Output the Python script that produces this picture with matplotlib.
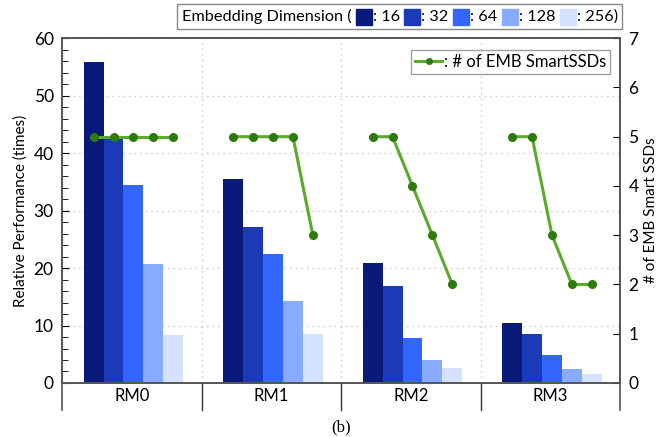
import numpy as np
import matplotlib
matplotlib.use("Agg")
import matplotlib.pyplot as plt
from matplotlib.patches import Rectangle
from matplotlib.lines import Line2D
from matplotlib.ticker import MultipleLocator
from matplotlib.offsetbox import AnchoredOffsetbox, HPacker, TextArea, DrawingArea

plt.rcParams['font.family'] = ['Lato', 'DejaVu Sans']

models = ["RM0", "RM1", "RM2", "RM3"]
dims = ["16", "32", "64", "128", "256"]
dim_colors = ["#0a1a7a", "#1a3ab8", "#3366ff", "#88aaff", "#d4e2ff"]

# relative performance, one list per embedding dimension (RM0..RM3)
perf_16 = [55.8, 35.5, 20.9, 10.5]
perf_32 = [43.0, 27.1, 16.9, 8.6]
perf_64 = [34.4, 22.4, 7.9, 4.9]
perf_128 = [20.7, 14.3, 4.0, 2.4]
perf_256 = [8.3, 8.5, 2.6, 1.5]
perf = [perf_16, perf_32, perf_64, perf_128, perf_256]

# number of EMB SmartSSDs per model, one value per dimension
ssd_rm0 = [5, 5, 5, 5, 5]
ssd_rm1 = [5, 5, 5, 5, 3]
ssd_rm2 = [5, 5, 4, 3, 2]
ssd_rm3 = [5, 5, 3, 2, 2]
ssds = [ssd_rm0, ssd_rm1, ssd_rm2, ssd_rm3]

fig = plt.figure(figsize=(6.62, 4.37), dpi=100)
ax = fig.add_axes([0.0937, 0.1236, 0.843, 0.789])

ind = np.arange(len(models))
w = 0.143
for i, vals in enumerate(perf):
    ax.bar(ind + (i - 2) * w + 0.012, vals, w, color=dim_colors[i], zorder=2)

ax.set_xlim(-0.5, len(models) - 0.5)
ax.set_ylim(0, 60)
ax.yaxis.set_major_locator(MultipleLocator(10))
ax.yaxis.set_minor_locator(MultipleLocator(2))
ax.tick_params(axis='y', which='both', direction='in', labelsize=12.5, pad=6)
ax.tick_params(axis='y', which='major', length=5)
ax.tick_params(axis='y', which='minor', length=4)
ax.set_xticks([])
ax.set_ylabel("Relative Performance (times)", fontsize=11)
ax.grid(axis='y', linestyle=(0, (1, 3)), color='#c8c8c8', linewidth=1, zorder=0)
for b in ind[:-1] + 0.5:
    ax.axvline(b, linestyle=(0, (1, 3)), color='#c8c8c8', linewidth=1, zorder=0)

for s in ax.spines.values():
    s.set_color('#555555')
    s.set_linewidth(1.2)

# category strip under the axis
depth = -0.078
trans = ax.get_xaxis_transform()
for b in ind[:-1] + 0.5:
    ax.plot([b, b], [0, depth], transform=trans, color='#333333', lw=1, clip_on=False)
for xb in [-0.5, len(models) - 0.5]:
    ax.plot([xb, xb], [0, depth], transform=trans, color='#555555', lw=1.2, clip_on=False)
for k, m in enumerate(models):
    ax.text(k, depth / 2, m, transform=trans, ha='center', va='center', fontsize=12)

ax.text(0.5, -0.128, "(b)", transform=ax.transAxes, ha='center', va='center',
        fontsize=12, family=['Liberation Serif', 'DejaVu Serif'])

ax2 = ax.twinx()
ax2.set_ylim(0, 7)
ax2.yaxis.set_major_locator(MultipleLocator(1))
ax2.tick_params(axis='y', direction='in', length=5, labelsize=12.5, pad=6)
ax2.set_ylabel("# of EMB Smart SSDs", fontsize=11)
for s in ax2.spines.values():
    s.set_color('#555555')
    s.set_linewidth(1.2)
for k, vals in enumerate(ssds):
    ax2.plot(k + (np.arange(len(dims)) - 2) * w + 0.012, vals, color='#5aab2a', lw=2.2,
             marker='o', markersize=5.5, markerfacecolor='#2f7a0c',
             markeredgecolor='#2f7a0c', zorder=3)

# dimension legend: "Embedding Dimension ( [] : 16 [] : 32 ... )"
tprops = dict(fontsize=11.7, family=['Lato', 'DejaVu Sans'])
items = [TextArea("Embedding Dimension (", textprops=tprops)]
for i, d in enumerate(dims):
    da = DrawingArea(11.5, 11.5, 0, 0)
    da.add_artist(Rectangle((0, 0), 11.5, 11.5, color=dim_colors[i]))
    lab = ": " + d + (")" if i == len(dims) - 1 else "")
    items.append(HPacker(children=[da, TextArea(lab, textprops=tprops)],
                         align='center', pad=0, sep=0.8))
packer = HPacker(children=items, align='center', pad=0, sep=3.2)
box = AnchoredOffsetbox(loc='upper right', child=packer, pad=0.3, borderpad=0,
                        frameon=True, bbox_to_anchor=(0.94, 0.99),
                        bbox_transform=fig.transFigure)
box.patch.set_edgecolor('#888888')
box.patch.set_linewidth(1)
box.patch.set_boxstyle('square', pad=0)
fig.add_artist(box)

line_h = Line2D([], [], color='#5aab2a', lw=2.2, marker='o', markersize=4,
                markerfacecolor='#2f7a0c', markeredgecolor='#2f7a0c')
leg2 = ax2.legend([line_h], [": # of EMB SmartSSDs"], loc='upper right',
                  bbox_to_anchor=(0.988, 0.975), fontsize=12, frameon=True,
                  fancybox=False, edgecolor='#888888', handlelength=1.6,
                  handletextpad=0.1, borderpad=0.25, borderaxespad=0.2)
leg2.get_frame().set_linewidth(1)

fig.savefig("out.png", dpi=100)
